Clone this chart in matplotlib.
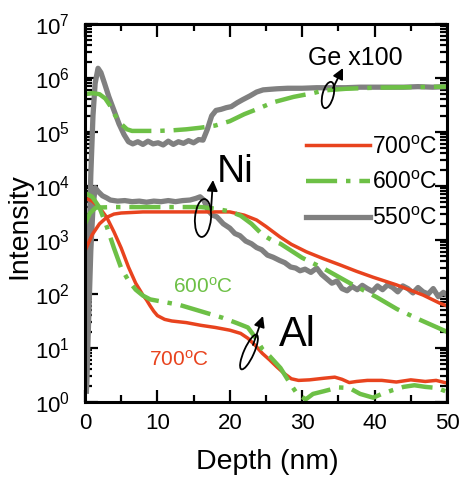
import numpy as np
import matplotlib.pyplot as plt
from matplotlib.patches import Ellipse
from matplotlib.ticker import LogLocator, MultipleLocator, FuncFormatter, NullFormatter

plt.rcParams['font.family'] = ['Liberation Sans', 'DejaVu Sans']
plt.rcParams['mathtext.default'] = 'regular'

# depth (nm) and log10(intensity)
ge_550_x = [0.2, 0.5, 0.8, 1.1, 1.4, 1.8, 2.2, 2.7, 3.3, 4.0, 4.7, 5.4, 6.0, 6.6, 7.3, 8.0, 8.7, 9.4,
            10.1, 10.8, 11.5, 12.2, 12.9, 13.6, 14.3, 15.0, 15.7, 16.3, 16.9, 17.5, 18.1, 18.8, 19.5,
            20.2, 21.0, 21.8, 22.8, 23.7, 24.6, 25.5, 26.5, 28, 30, 32, 34, 36, 38, 40, 42, 44, 46, 48, 50]
ge_550_log = [0.3, 2.5, 4.2, 5.3, 5.9, 6.18, 6.1, 5.9, 5.65, 5.4, 5.15, 4.95, 4.82, 4.78, 4.82, 4.77, 4.83, 4.78,
              4.8, 4.76, 4.83, 4.77, 4.82, 4.79, 4.84, 4.8, 4.86, 4.85, 5.05, 5.3, 5.4, 5.42, 5.45,
              5.47, 5.54, 5.6, 5.67, 5.74, 5.78, 5.79, 5.8, 5.81, 5.81, 5.82, 5.82, 5.82, 5.83, 5.83, 5.83,
              5.83, 5.84, 5.83, 5.84]

ge_600_x = [0, 1, 2, 2.8, 3.5, 4.2, 5, 5.8, 6.5, 8, 10, 12, 14, 16, 18, 20, 22, 23.7, 26, 28.8, 31.5, 33,
            36, 40, 45, 50]
ge_600_log = [5.7, 5.72, 5.7, 5.62, 5.48, 5.3, 5.15, 5.05, 5.02, 5.02, 5.02, 5.03, 5.05, 5.08, 5.12, 5.2,
              5.33, 5.42, 5.55, 5.65, 5.72, 5.77, 5.8, 5.82, 5.83, 5.84]

ni_550_x = [0.2, 0.5, 0.8, 1.1, 1.4, 1.8, 2.4, 3.0, 3.5, 4.5, 5.5, 6.5, 7.5, 8.5, 9.5, 10.5, 11.5, 12.5,
            13.5, 14.5, 15.3, 15.9, 16.4, 17.0, 17.6, 18.2, 19.1, 20, 20.7, 21.4, 22.2, 23, 23.7, 24.4,
            25.2, 26, 26.9, 27.6, 28.4, 29.1, 29.7, 30.4, 31.2, 32, 32.7, 33.4, 34.1, 34.8, 35.5, 36.2,
            36.9, 37.6, 38.3, 39, 39.7, 40.4, 41.1, 41.8, 42.5, 43.2, 43.9, 44.6, 45.3, 46, 46.7, 47.4,
            48.1, 48.8, 49.5, 50]
ni_550_log = [0.2, 1.5, 2.8, 3.6, 3.97, 3.9, 3.82, 3.78, 3.74, 3.72, 3.73, 3.71, 3.72, 3.7, 3.72, 3.71,
              3.73, 3.71, 3.73, 3.74, 3.77, 3.8, 3.74, 3.55, 3.46, 3.43, 3.3, 3.22, 3.12, 3.08, 2.98, 2.93,
              2.86, 2.82, 2.72, 2.68, 2.62, 2.58, 2.5, 2.48, 2.43, 2.46, 2.4, 2.48, 2.36, 2.28, 2.2, 2.24,
              2.1, 2.06, 2.14, 2.08, 2.16, 2.1, 2.05, 2.15, 2.08, 2.17, 2.12, 2.04, 2.15, 2.1, 2.02, 2.12,
              2.04, 2.0, 2.1, 1.95, 2.03, 1.98]

ni_600_x = [0, 0.7, 1.5, 4, 8, 12, 16, 18, 20, 21.5, 23, 24.5, 26, 27, 30, 33, 36.6, 40.3, 43.1, 46.3, 50]
ni_600_log = [3.3, 3.5, 3.6, 3.61, 3.61, 3.61, 3.61, 3.58, 3.53, 3.45, 3.3, 3.1, 2.98, 2.93, 2.67, 2.47,
              2.2, 1.94, 1.72, 1.52, 1.3]

ni_700_x = [0, 0.5, 1, 2, 3, 4, 5, 8, 12, 16, 20, 22, 23.7, 25, 26.9, 28.5, 30.6, 33, 35.2, 37.5, 39.8,
            43, 46.7, 49, 50]
ni_700_log = [2.8, 2.95, 3.1, 3.3, 3.42, 3.48, 3.5, 3.52, 3.52, 3.52, 3.52, 3.46, 3.37, 3.25, 3.06, 2.92,
              2.78, 2.65, 2.54, 2.42, 2.31, 2.17, 1.98, 1.83, 1.78]

al_600_x = [0, 1, 2, 3, 4, 5, 6, 7, 8, 9, 11, 13, 15, 17, 19, 21, 22.5, 23.5, 24.5, 25.5, 27, 28.3, 29.3,
            30.5, 31.5, 33, 35, 36.5, 38, 39.8, 41, 42.5, 44, 45.5, 47, 48.6, 50]
al_600_log = [3.87, 3.8, 3.6, 3.25, 2.85, 2.48, 2.25, 2.08, 1.97, 1.9, 1.85, 1.8, 1.72, 1.64, 1.56, 1.46,
              1.38, 1.2, 0.98, 0.85, 0.63, 0.35, 0.15, 0.05, 0.15, 0.2, 0.27, 0.26, 0.15, 0.08, 0.15,
              0.22, 0.28, 0.31, 0.28, 0.26, 0.19]

al_700_x = [0, 1, 2, 3, 4, 5, 6, 7, 8, 8.5, 9, 9.5, 10, 11, 12, 14, 16, 18, 20, 21.5, 22.5, 23.5, 24.5,
            25.5, 26.5, 27.5, 28.5, 29.5, 31, 33, 34.5, 35.5, 36.5, 37.5, 39, 41, 43, 45, 47, 48.5, 50]
al_700_log = [3.78, 3.72, 3.6, 3.42, 3.15, 2.85, 2.5, 2.2, 1.98, 1.89, 1.78, 1.68, 1.6, 1.53, 1.5, 1.47,
              1.42, 1.38, 1.33, 1.27, 1.18, 1.05, 0.9, 0.78, 0.65, 0.53, 0.43, 0.4, 0.41, 0.44, 0.46,
              0.42, 0.36, 0.38, 0.4, 0.4, 0.37, 0.41, 0.38, 0.4, 0.35]

labels = ['700$^{o}$C', '600$^{o}$C', '550$^{o}$C']

red = '#E8431E'
green = '#6DC046'
gray = '#808080'

W, H = 459, 479
fig = plt.figure(figsize=(W / 100, H / 100), dpi=100)
ax = fig.add_axes([85 / W, 1 - 402 / H, 362 / W, 378 / H])

def to_val(v):
    return 10 ** np.array(v)

gray_kw = dict(color=gray, lw=3.8, solid_joinstyle='round')
red_kw = dict(color=red, lw=2.5)
green_kw = dict(color=green, lw=3.2, dashes=(7, 2, 1, 2))

ax.plot(ge_550_x, to_val(ge_550_log), **gray_kw)
g550, = ax.plot(ni_550_x, to_val(ni_550_log), **gray_kw)
r700, = ax.plot(ni_700_x, to_val(ni_700_log), **red_kw)
ax.plot(al_700_x, to_val(al_700_log), **red_kw)
ax.plot(ge_600_x, to_val(ge_600_log), **green_kw)
g600, = ax.plot(ni_600_x, to_val(ni_600_log), **green_kw)
ax.plot(al_600_x, to_val(al_600_log), **green_kw)

ax.set_yscale('log')
ax.set_xlim(0, 50)
ax.set_ylim(1, 1e7)

ax.xaxis.set_major_locator(MultipleLocator(10))
ax.xaxis.set_minor_locator(MultipleLocator(5))
ax.yaxis.set_major_locator(LogLocator(base=10, numticks=10))
ax.yaxis.set_minor_locator(LogLocator(base=10, subs=np.arange(2, 10), numticks=20))
ax.yaxis.set_minor_formatter(NullFormatter())
ax.yaxis.set_major_formatter(FuncFormatter(lambda v, p: '10$^{%d}$' % round(np.log10(v))))

ax.tick_params(which='both', direction='in', top=True, right=True, width=1.6, labelsize=16)
ax.tick_params(which='major', length=9)
ax.tick_params(which='minor', length=5)
ax.tick_params(axis='x', pad=8)
ax.tick_params(axis='y', pad=11)
for s in ax.spines.values():
    s.set_linewidth(2.2)

ax.set_xlabel('Depth (nm)', fontsize=20.5)
ax.set_ylabel('Intensity', fontsize=20.5)
ax.xaxis.set_label_coords(0.503, -0.125)
ax.yaxis.set_label_coords(-0.144, 0.466)

ax.legend([r700, g600, g550], labels, loc='upper right', bbox_to_anchor=(0.975, 0.705),
          frameon=False, fontsize=16.5, handlelength=2.8, handletextpad=0.1,
          labelspacing=0.55, borderpad=0, borderaxespad=0)

ax.text(37.3, 10 ** 6.37, 'Ge x100', fontsize=18, ha='center', va='center')
ax.text(20.7, 10 ** 4.26, 'Ni', fontsize=28, ha='center', va='center')
ax.text(29.4, 10 ** 1.24, 'Al', fontsize=30, ha='center', va='center')
ax.text(16.3, 10 ** 2.13, '600$^{o}$C', fontsize=15, color=green, ha='center', va='center')
ax.text(13.0, 10 ** 0.78, '700$^{o}$C', fontsize=15, color=red, ha='center', va='center')


# curly "rotation" arrows, positions in picture pixels
def fx(px):
    return px / W


def fy(py):
    return 1 - py / H


def twist(cx, cy, w, h, ang, start, tip):
    fig.add_artist(Ellipse((fx(cx), fy(cy)), w / W, h / H, angle=ang, fill=False,
                           lw=1.3, color='k', transform=fig.transFigure))
    fig.add_artist(plt.Annotation('', xy=(fx(tip[0]), fy(tip[1])), xycoords='figure fraction',
                                  xytext=(fx(start[0]), fy(start[1])), textcoords='figure fraction',
                                  arrowprops=dict(arrowstyle='-|>', lw=1.3, color='k',
                                                  mutation_scale=16, shrinkA=0, shrinkB=0)))


twist(328, 95, 11, 27, -15, (333, 88), (343, 68))
twist(203, 218, 16, 38, -5, (211, 210), (213, 180))
twist(249, 352, 10, 38, -25, (253, 345), (263, 316))

fig.savefig('out.png', dpi=100)
